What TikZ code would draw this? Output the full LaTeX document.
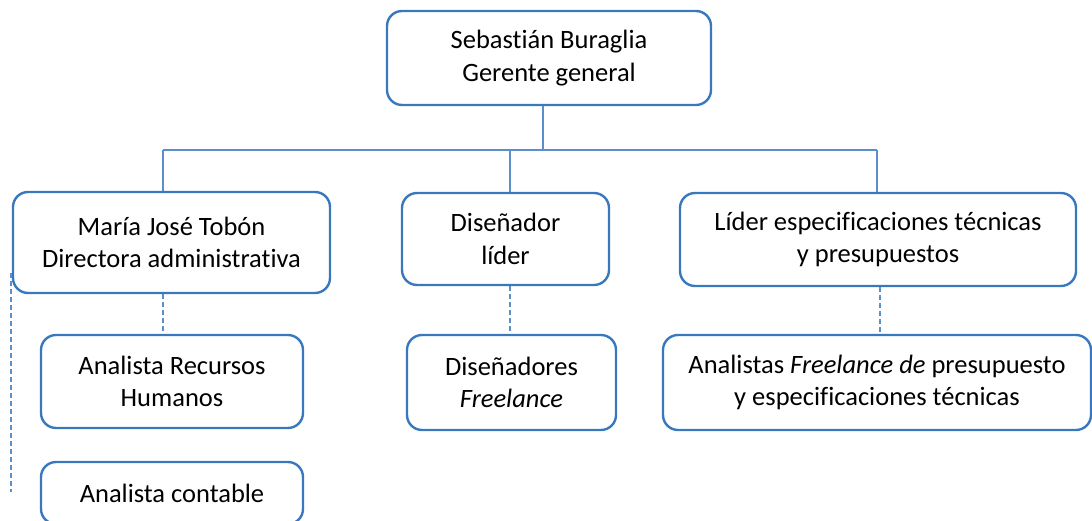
\documentclass[tikz,border=0pt]{standalone}
\usepackage{fontspec}
\setmainfont{Carlito}[Ligatures=NoCommon]
\definecolor{boxblue}{HTML}{3A78BE}
\definecolor{lineblue}{HTML}{5B8FCB}
\begin{document}
\begin{tikzpicture}[x=1pt,y=-1pt,
  orgbox/.style={draw=boxblue,line width=2.4pt,rounded corners=15pt,fill=white,
    align=center,inner sep=0pt,font=\fontsize{26.5}{32.5}\selectfont,text=black},
  link/.style={draw=lineblue,line width=1.2pt},
  dlink/.style={draw=lineblue,line width=1.2pt,dash pattern=on 5pt off 3pt}]
\clip (0,0) rectangle (1092,521);
\fill[white] (0,0) rectangle (1092,521);
\node[orgbox,minimum width=324,minimum height=94] (top) at (549,58) {Sebastián Buraglia\\Gerente general};
\node[orgbox,minimum width=317,minimum height=101] (maria) at (171.5,242.5) {María José Tobón\\Directora administrativa};
\node[orgbox,minimum width=207,minimum height=92] (dis) at (505.5,239) {Diseñador\\líder};
\node[orgbox,minimum width=396,minimum height=93] (lider) at (878,239.5) {Líder especificaciones técnicas\\y presupuestos};
\node[orgbox,minimum width=262,minimum height=93] (rh) at (172,381.5) {Analista Recursos\\Humanos};
\node[orgbox,minimum width=262,minimum height=62] (cont) at (172,493) {Analista contable};
\node[orgbox,minimum width=209,minimum height=95] (disf) at (511.5,382.5) {Diseñadores\\\textit{Freelance}};
\node[orgbox,minimum width=428,minimum height=95] (anf) at (877,382.5) {Analistas \textit{Freelance de} presupuesto\\y especificaciones técnicas};
\coordinate (bus) at (543,150);
\coordinate (bL) at (163,150);
\coordinate (bM) at (510,150);
\coordinate (bR) at (877,150);
\coordinate (dL) at (163,0);
\coordinate (dM) at (510,0);
\coordinate (dR) at (880,0);
\coordinate (sideA) at (11,273);
\coordinate (sideB) at (11,492);
\draw[link] (top.south -| bus) -- (bus);
\draw[link] (bL) -- (bR);
\draw[link] (bL) -- (bL |- maria.north);
\draw[link] (bM) -- (bM |- dis.north);
\draw[link] (bR) -- (bR |- lider.north);
\draw[dlink] (dL |- maria.south) -- (dL |- rh.north);
\draw[dlink] (dM |- dis.south) -- (dM |- disf.north);
\draw[dlink] (dR |- lider.south) -- (dR |- anf.north);
\draw[dlink] (sideA) -- (sideB);
\end{tikzpicture}
\end{document}
